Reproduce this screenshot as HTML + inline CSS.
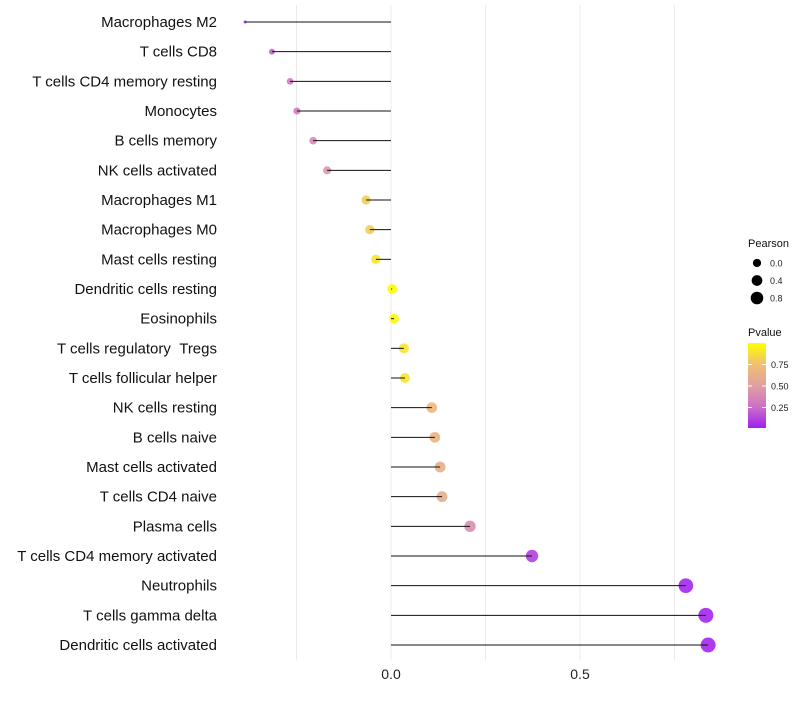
<!DOCTYPE html>
<html><head><meta charset="utf-8"><style>
body{margin:0;background:#fff;font-family:"Liberation Sans",sans-serif}
</style></head><body>
<svg id="c" width="800" height="700" xmlns="http://www.w3.org/2000/svg"></svg>
<script>
const categories=["Macrophages M2","T cells CD8","T cells CD4 memory resting","Monocytes","B cells memory","NK cells activated","Macrophages M1","Macrophages M0","Mast cells resting","Dendritic cells resting","Eosinophils","T cells regulatory \u00a0Tregs","T cells follicular helper","NK cells resting","B cells naive","Mast cells activated","T cells CD4 naive","Plasma cells","T cells CD4 memory activated","Neutrophils","T cells gamma delta","Dendritic cells activated"];
const pearson=[-0.386,-0.315,-0.267,-0.249,-0.206,-0.169,-0.066,-0.056,-0.040,0.003,0.008,0.034,0.037,0.108,0.116,0.130,0.135,0.209,0.373,0.780,0.833,0.839];
const pvalue=[0.03,0.2,0.3,0.3,0.38,0.45,0.8,0.8,0.9,0.99,0.97,0.9,0.9,0.68,0.66,0.62,0.6,0.4,0.1,0.02,0.02,0.02];
const xTicks=[0,0.5];
const xGrid=[-0.25,0,0.25,0.5,0.75];
const sizeLegend=[0.0,0.4,0.8];
const colorTicks=[0.25,0.5,0.75];
const NS="http://www.w3.org/2000/svg",svg=document.getElementById('c');
const X=v=>391+v*378;
const Y=i=>22+i*(645-22)/(categories.length-1);
const R=v=>1.5+6*Math.sqrt(Math.max(0,(v+0.386)/1.225));
const stops=[[0,[160,32,240]],[0.25,[204,112,200]],[0.5,[224,160,160]],[0.75,[240,192,112]],[1,[255,255,0]]];
function col(p){for(let k=1;k<stops.length;k++){if(p<=stops[k][0]){const a=stops[k-1],b=stops[k],t=(p-a[0])/(b[0]-a[0]);return 'rgb('+a[1].map((c,j)=>Math.round(c+(b[1][j]-c)*t)).join(',')+')';}}return 'rgb(255,255,0)';}
function el(t,a,txt){const e=document.createElementNS(NS,t);for(const k in a)e.setAttribute(k,a[k]);if(txt!=null)e.textContent=txt;svg.appendChild(e);return e;}
xGrid.forEach(v=>{const g=el('line',{x1:X(v),x2:X(v),y1:5,y2:660,stroke:'#ebebeb','stroke-width':1});

});
xTicks.forEach(v=>{const t=el('text',{x:X(v),y:679,'text-anchor':'middle','font-size':14,fill:'#222'},v.toFixed(1));

});
categories.forEach((c,i)=>{const y=Y(i);
const t=el('text',{x:217,y:y+5,'text-anchor':'end','font-size':15,fill:'#111'},c);


const d=el('circle',{cx:X(pearson[i]),cy:y,r:R(pearson[i]),fill:col(pvalue[i]),'fill-opacity':0.9});


const l=el('line',{x1:X(0),x2:X(pearson[i]),y1:y,y2:y,stroke:'#111','stroke-width':1});

});
let t=el('text',{x:748,y:247,'font-size':11,fill:'#111'},'Pearson');


sizeLegend.forEach((v,k)=>{const y=263+k*17.5;
const c=el('circle',{cx:757,cy:y,r:R(v)*0.85,fill:'#000'});


const tt=el('text',{x:770,y:y+3.5,'font-size':9,fill:'#222'},v.toFixed(1));

});
t=el('text',{x:748,y:336,'font-size':11,fill:'#111'},'Pvalue');


const defs=el('defs',{});const lg=document.createElementNS(NS,'linearGradient');lg.setAttribute('id','g');lg.setAttribute('x1',0);lg.setAttribute('x2',0);lg.setAttribute('y1',1);lg.setAttribute('y2',0);defs.appendChild(lg);
stops.forEach(s=>{const st=document.createElementNS(NS,'stop');st.setAttribute('offset',s[0]);st.setAttribute('stop-color',col(s[0]));lg.appendChild(st);});
const bar=el('rect',{x:748,y:343,width:18,height:85,fill:'url(#g)'});


const CY=p=>343+(1-p)*86;
colorTicks.forEach(p=>{el('line',{x1:748,x2:752,y1:CY(p),y2:CY(p),stroke:'#fff'});el('line',{x1:762,x2:766,y1:CY(p),y2:CY(p),stroke:'#fff'});
const tt=el('text',{x:771,y:CY(p)+3.5,'font-size':9,fill:'#222'},p.toFixed(2));

});
</script>
</body></html>
